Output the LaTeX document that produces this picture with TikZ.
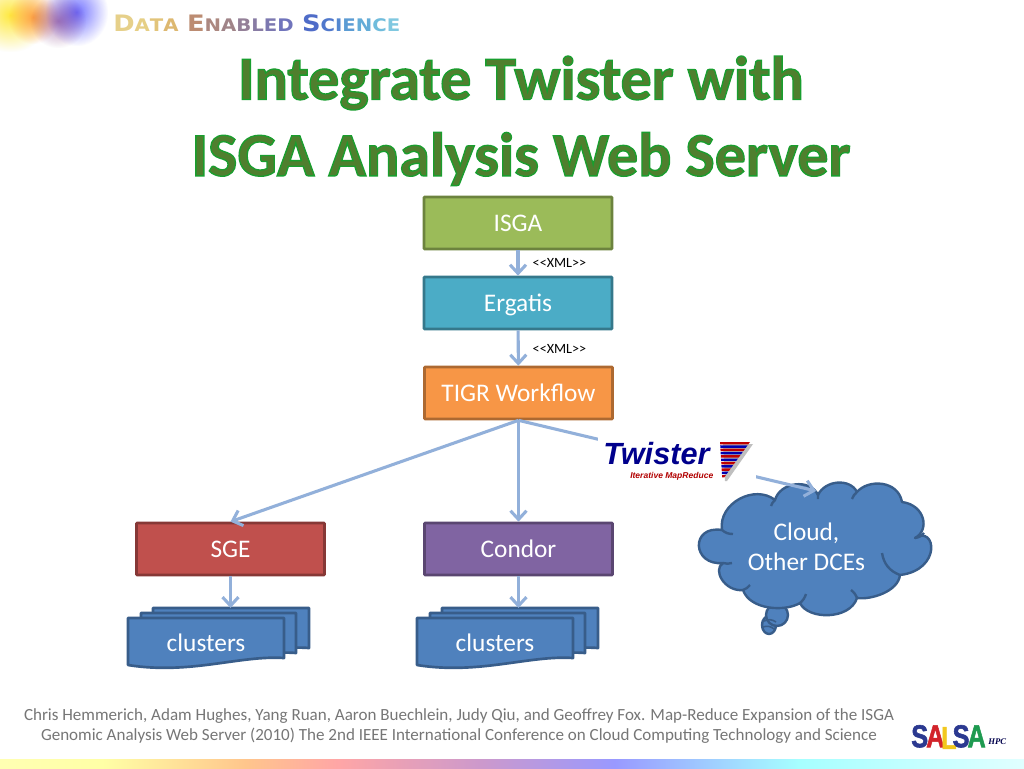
\documentclass[tikz,border=0pt]{standalone}
\usepackage{fontspec}
\setmainfont{Carlito}
\newfontfamily\logofont{Liberation Sans}
\newfontfamily\widefont{DejaVu Sans}
\newfontfamily\serifhpc{Liberation Serif}
\usetikzlibrary{arrows.meta,shadings,fadings,calc}
\tikzfading[name=softblob,inner color=transparent!0,outer color=transparent!100]
\definecolor{arrowblue}{HTML}{92B0DA}
\definecolor{titlefill}{HTML}{4F7F2E}
\definecolor{footgrey}{HTML}{767676}
\definecolor{bluefill}{HTML}{4F81BD}
\definecolor{blueedge}{HTML}{385D8A}
\definecolor{cgreen}{HTML}{9BBB59}
\definecolor{cteal}{HTML}{4BACC6}
\definecolor{corange}{HTML}{F79646}
\definecolor{cred}{HTML}{C0504D}
\definecolor{cpurple}{HTML}{8064A2}
\newcommand{\outlinedtext}[1]{\special{pdf:code q 2 Tr 1.0 w 0.10 0.62 0.18 RG}#1\special{pdf:code Q}}
\newcommand{\heavy}[2]{\textcolor[HTML]{#1}{\special{pdf:code q 2 Tr 0.35 w}#2\special{pdf:code Q}}}
\pgfdeclarehorizontalshading{rainbowbar}{100bp}{
 color(0bp)=(yellow!30);
 color(25bp)=(yellow!30);
 color(30bp)=(yellow!35);
 color(37bp)=(orange!45);
 color(41.5bp)=(red!35);
 color(48.5bp)=(violet!40);
 color(55bp)=(blue!40);
 color(64bp)=(cyan!35);
 color(75bp)=(cyan!12);
 color(100bp)=(cyan!12)}
\tikzset{
 flowbox/.style={draw=#1!70!black,fill=#1,line width=2pt,minimum width=141pt,minimum height=39pt,inner sep=0pt,rounded corners=0.6pt,text=white,font=\fontsize{19}{22}\selectfont,text height=12pt,text depth=0pt,anchor=center},
 link/.style={draw=arrowblue,line width=2.3pt,-{Straight Barb[length=6.5pt,width=12pt,line width=2.3pt]}},
 stackpage/.style={draw=blueedge,fill=bluefill,line width=2pt,line join=round},
 titletext/.style={text=titlefill,font=\fontsize{46.5}{54}\selectfont\bfseries,inner sep=0pt},
 foot/.style={text=footgrey,font=\fontsize{12.77}{15}\selectfont,inner sep=0pt},
 xmltext/.style={font=\fontsize{10.6}{12}\selectfont,inner sep=0pt,text=black},
 bodytext/.style={text=white,font=\fontsize{19}{22}\selectfont,inner sep=0pt}
}
\newcommand{\pagestack}[1]{%
 \begin{scope}[xshift=#1*0.75pt]
 \draw[stackpage] (153,608) -- (309,608) -- (309,648) .. controls (270,645) and (220,660) .. (153,652) -- cycle;
 \draw[stackpage] (141,613) -- (296,613) -- (296,653) .. controls (260,650) and (205,665) .. (141,657) -- cycle;
 \draw[stackpage] (128,618) -- (284,618) -- (284,658) .. controls (240,655) and (190,675) .. (128,665) -- cycle;
 \end{scope}}
\begin{document}
\begin{tikzpicture}[x=0.75pt,y=-0.75pt]
\useasboundingbox (0,0) rectangle (1024,768);
\fill[white] (0,0) rectangle (1024,768);
% corner blob
\begin{scope}
\clip (0,0) rectangle (120,60);
\fill[yellow!85!orange,opacity=.75,path fading=softblob] (-30,-22) rectangle (50,52);
\fill[orange!85!red,opacity=.6,path fading=softblob] (8,-10) rectangle (58,44);
\fill[blue!65!white,opacity=.85,path fading=softblob] (45,-22) rectangle (108,46);
\fill[violet!75!black,opacity=.45,path fading=softblob] (30,-6) rectangle (86,48);
\end{scope}
% header
\node[inner sep=0pt,anchor=west,font=\widefont\bfseries\fontsize{17}{20}\selectfont] (hdr) at (113,23) {\scalebox{1.135}[1]{%
 \textcolor[HTML]{E6D08A}{D}\textcolor[HTML]{E6CF85}{\fontsize{13}{16}\selectfont A}\textcolor[HTML]{E2C47A}{\fontsize{13}{16}\selectfont T}\textcolor[HTML]{DDB870}{\fontsize{13}{16}\selectfont A}\,\,%
 \textcolor[HTML]{BC8C72}{E}\textcolor[HTML]{AC8880}{\fontsize{13}{16}\selectfont N}\textcolor[HTML]{A08488}{\fontsize{13}{16}\selectfont A}\textcolor[HTML]{948098}{\fontsize{13}{16}\selectfont B}\textcolor[HTML]{887CA4}{\fontsize{13}{16}\selectfont L}\textcolor[HTML]{7C78B0}{\fontsize{13}{16}\selectfont E}\textcolor[HTML]{7074BC}{\fontsize{13}{16}\selectfont D}\,\,%
 \textcolor[HTML]{4F6CC8}{S}\textcolor[HTML]{5078CC}{\fontsize{13}{16}\selectfont C}\textcolor[HTML]{5488D0}{\fontsize{13}{16}\selectfont I}\textcolor[HTML]{5C9CD4}{\fontsize{13}{16}\selectfont E}\textcolor[HTML]{64ACD8}{\fontsize{13}{16}\selectfont N}\textcolor[HTML]{70BCDC}{\fontsize{13}{16}\selectfont C}\textcolor[HTML]{80C8E0}{\fontsize{13}{16}\selectfont E}}};
% title
\node[titletext] (t1) at (521,83) {\outlinedtext{Integrate Twister with}};
\node[titletext] (t2) at (521,159) {\outlinedtext{ISGA Analysis Web Server}};
% boxes
\node[flowbox=cgreen] (isga) at (518,223) {ISGA};
\node[flowbox=cteal] (ergatis) at (518,303) {Ergatis};
\node[flowbox=corange] (tigr) at (518.5,393) {TIGR Workflow};
\node[flowbox=cred] (sge) at (230.5,549) {SGE};
\node[flowbox=cpurple] (condor) at (518.5,549) {Condor};
% stacks
\pagestack{0}
\pagestack{289}
\node[bodytext] (c1) at (206,643) {clusters};
\node[bodytext] (c2) at (495,643) {clusters};
% cloud
\coordinate (cloudtop) at (816,491);
\draw[stackpage,line width=1.8pt] (769,625) ellipse (7 and 9);
\draw[stackpage,line width=1.8pt] (777,615) circle (11);
\draw[blueedge,line width=1.2pt] (764,621) to[bend left=30] (776,622) (763,627) to[bend left=30] (774,629);
\draw[stackpage,line width=1.8pt] (722,530)
 .. controls (718,503) and (755,484) .. (775,500)
 .. controls (780,482) and (810,478) .. (818,495)
 .. controls (825,480) and (850,478) .. (857,492)
 .. controls (868,479) and (898,480) .. (902,502)
 .. controls (925,505) and (930,530) .. (915,538)
 .. controls (936,525) and (942,570) .. (900,575)
 .. controls (898,592) and (870,600) .. (857,598)
 .. controls (850,620) and (808,620) .. (800,603)
 .. controls (785,612) and (750,610) .. (743,590)
 .. controls (725,592) and (712,570) .. (723,563)
 .. controls (692,566) and (690,525) .. (722,530) -- cycle;
\draw[blueedge,line width=1.8pt] (722,530) to[bend right=20] (733,534) (775,500) to[bend right=15] (771,506) (818,495) to[bend right=15] (818,499) (857,492) to[bend right=15] (852,499)
 (915,538) to[bend right=20] (924,533) (900,575) to[bend left=30] (882,553) (857,598) to[bend right=15] (851,590) (800,603) to[bend right=15] (806,594) (743,590) to[bend right=15] (750,585) (723,563) to[bend right=15] (732,563);
\node[bodytext,align=center,font=\fontsize{19}{22.5}\selectfont] (cloud) at (806.5,547) {Cloud,\\Other DCEs};
% connectors
\draw[link] (isga) -- (ergatis);
\draw[link] (ergatis) -- (tigr);
\draw[link] (tigr.south) -- (sge.north);
\draw[link] (tigr.south) -- (condor.north);
\draw[link] (tigr.south) -- (cloudtop);
\coordinate (s1) at (230.5,608);
\coordinate (s2) at (518.5,608);
\draw[link] (sge) -- (s1);
\draw[link] (condor) -- (s2);
\node[xmltext] (x1) at (559.5,262.5) {{<}{<}XML{>}{>}};
\node[xmltext] (x2) at (559.5,348.5) {{<}{<}XML{>}{>}};
% twister logo
\fill[white] (598,432) rectangle (756,486);
\node[inner sep=0pt,anchor=west,text=blue!55!black,font=\logofont\bfseries\itshape\fontsize{23}{26}\selectfont] (tw) at (603,454) {Twister};
\node[inner sep=0pt,anchor=west,text=red!70!black,font=\logofont\bfseries\itshape\fontsize{6.4}{8}\selectfont] (itm) at (630,476) {Iterative MapReduce};
\fill[black!25] (723,444) -- (753,444) -- (727,481) -- (725,481) -- cycle;
\foreach \i/\c in {0/red!75!black,1/blue!70!black,2/red!75!black,3/blue!70!black,4/red!75!black,5/blue!70!black,6/red!75!black,7/blue!70!black,8/red!75!black,9/blue!70!black,10/red!75!black}{
 \fill[\c] ({720+\i*.2},{442+\i*3.3}) -- ({750-\i*2.4},{442+\i*3.3}) -- ({750-(\i+.75)*2.4},{442+(\i+.75)*3.3}) -- ({720+(\i+.75)*.2},{442+(\i+.75)*3.3}) -- cycle;
}
% footer
\node[foot] (f1) at (459,716) {Chris Hemmerich, Adam Hughes, Yang Ruan, Aaron Buechlein, Judy Qiu, and Geoffrey Fox. Map-Reduce Expansion of the ISGA};
\node[foot] (f2) at (459,736) {Genomic Analysis Web Server (2010) The 2nd IEEE International Conference on Cloud Computing Technology and Science};
% salsa logo
\node[inner sep=0pt,anchor=west,font=\logofont\bfseries\fontsize{19}{22}\selectfont] (salsa) at (911,737) {\scalebox{1}[1.25]{\heavy{2B3990}{S}\kern-1.5pt\heavy{D2232A}{A}\kern-2.5pt\raisebox{-1pt}{\heavy{F2C81E}{L}}\kern-3pt\heavy{2B3990}{S}\kern-1.5pt\heavy{1E9A50}{A}}};
\node[inner sep=0pt,anchor=west,text=blue!30!black,font=\serifhpc\bfseries\itshape\fontsize{6.5}{8}\selectfont] (hpc) at (988,742) {HPC};
% rainbow bar
\shade[shading=rainbowbar] (0,759) rectangle (1024,768);
\end{tikzpicture}
\end{document}
